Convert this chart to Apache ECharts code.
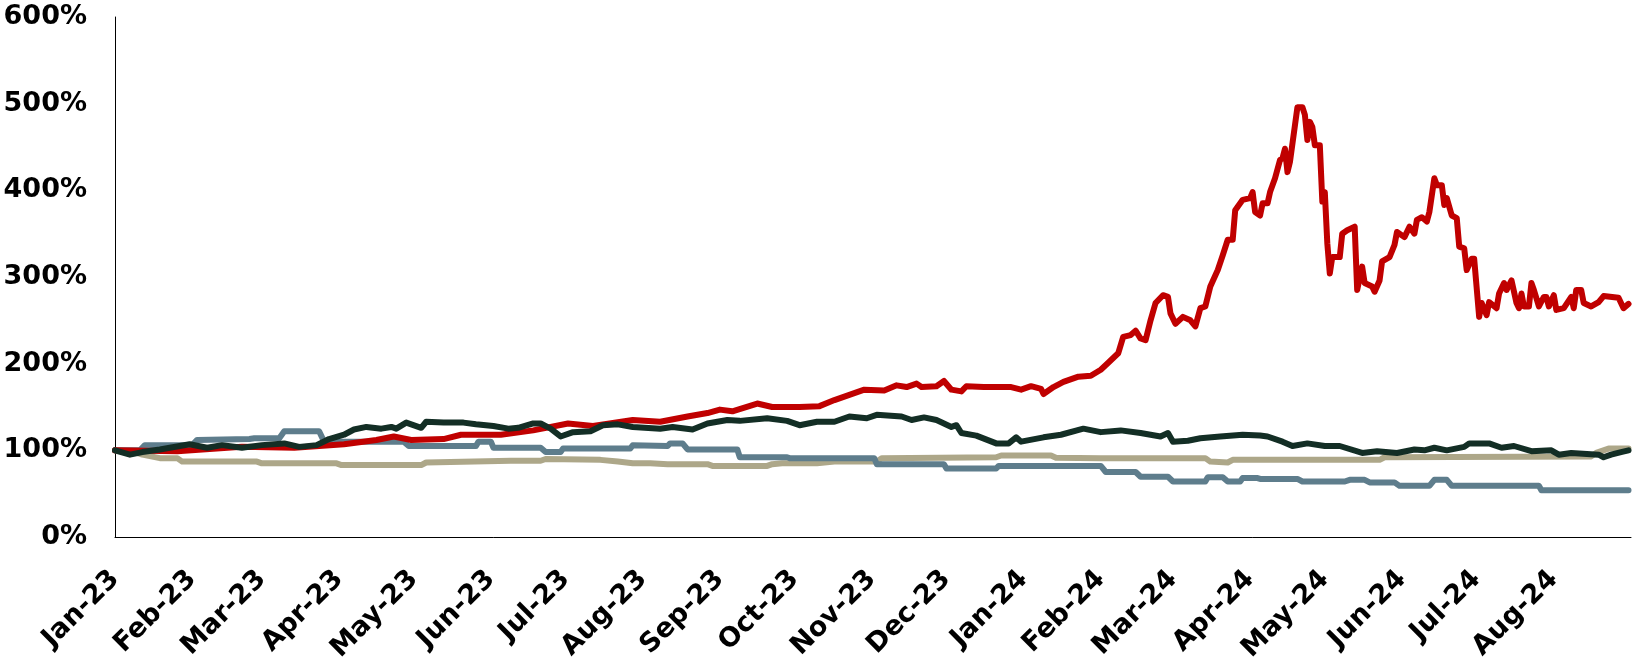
<!DOCTYPE html>
<html>
<head>
<meta charset="utf-8">
<script src="https://cdn.jsdelivr.net/npm/echarts@6/dist/echarts.min.js"></script>
<style>
html,body{margin:0;padding:0;background:#fff;}
#chart{width:1634px;height:658px;}
</style>
</head>
<body>
<div id="chart"></div>
<script>
// x values are days since 1 Jan 2023
const tickLabels = ['Jan-23','Feb-23','Mar-23','Apr-23','May-23','Jun-23','Jul-23','Aug-23','Sep-23','Oct-23','Nov-23','Dec-23',
  'Jan-24','Feb-24','Mar-24','Apr-24','May-24','Jun-24','Jul-24','Aug-24'];
const yTicks = [0, 100, 200, 300, 400, 500, 600];

const redDays = [0,25,51,72,92,105,112,119,132,139,155,168,182,192,208,219,230,238,243,248,258,264,275,283,289,297,301,309,314,318,322,324,330,333,336,340,342,349,360,364,368,372,373,377,381,387,392,396,399,403,405,408,410,412,414,416,418,421,423,424,426,429,432,434,436,438,440,443,445,447,449,450,453,456,457,458,460,461,463,464,466,468,469,470,471,472,474,475,477,478,479,480,481,482,484,485,486,487,488,489,492,493,495,498,499,501,502,505,506,508,509,512,514,515,518,520,522,523,525,527,528,530,531,533,534,535,537,539,540,542,543,545,546,548,549,551,552,555,556,558,559,561,563,564,565,566,568,569,570,572,574,575,576,578,579,582,585,586,587,589,590,593,596,598,604,606,608];
const redVals = [100,99,104,103,107,112,116,112,113,118,118,123,131,128,135,133,139,143,147,145,154,150,150,151,158,166,170,169,175,173,177,173,174,180,170,168,174,173,173,170,174,171,165,173,179,185,186,193,201,212,231,233,238,229,227,250,270,279,277,258,246,254,250,243,264,266,289,308,325,343,343,377,389,391,398,375,371,385,385,398,414,435,437,448,421,433,475,496,496,487,458,479,473,452,452,387,398,339,304,323,323,350,354,358,285,312,293,289,283,296,318,323,337,352,346,358,350,366,369,364,375,414,406,406,383,391,371,368,335,333,308,321,321,254,270,256,271,264,281,293,285,296,270,264,281,266,266,293,285,266,277,277,266,279,262,264,277,264,285,285,270,266,271,278,276,264,269];

const greenDays = [0,6,11,18,30,37,43,51,59,68,74,81,86,92,96,101,107,111,113,117,123,125,132,140,145,152,158,162,168,171,175,179,184,191,196,202,208,219,224,232,238,246,251,262,270,275,282,289,295,302,306,316,320,325,330,336,338,340,346,354,359,362,364,373,380,389,396,404,412,420,423,425,431,436,444,453,460,463,469,473,479,486,492,501,507,515,522,526,530,535,542,544,552,557,562,569,577,580,585,596,598,601,605,608];
const greenVals = [100,95,98,101,107,103,106,103,106,108,104,106,113,118,124,127,125,127,125,132,126,133,132,132,130,128,125,126,131,131,125,116,121,122,129,130,127,125,127,124,131,135,134,137,134,129,133,133,139,137,141,139,135,138,135,127,129,120,117,108,108,115,110,115,118,125,121,123,120,116,120,110,111,114,116,118,117,116,110,105,108,105,105,97,99,97,101,100,103,100,104,108,108,103,105,99,100,95,97,95,92,95,98,100];

const tanDays = [0,8,11,18,25,27,57,59,89,91,123,125,159,171,173,195,202,208,215,222,238,240,262,264,268,282,289,306,308,354,356,376,378,396,438,440,447,449,508,510,593,595,600,608];
const tanVals = [100,98,95,91,91,87,87,85,85,83,83,86,88,88,90,89,87,85,85,84,84,82,82,84,85,85,87,87,91,92,94,94,91.5,91,91,87,86,89,89,92,93,97,102,102];

const slateDays = [0,10,12,31,33,54,56,66,68,82,84,116,118,145,146,151,152,171,173,179,180,207,208,222,223,228,230,250,251,270,271,305,306,333,334,354,355,396,398,410,412,423,425,438,439,445,447,452,453,459,460,475,477,494,496,502,504,514,516,528,530,535,537,572,573,608];
const slateVals = [100,100,106,106,112,113,114,114,122,122,110,110,105,105,110,110,103,103,98,98,102,102,106,105,108,108,101,101,92,92,91,91,84,84,79,79,82,82,75,75,69.5,69.5,64,64,69,69,64,64,68,68,67,67,64,64,66,66,63,63,59,59,66,66,59,59,54,54];

const DAY_MS = 86400000;
const base = Date.UTC(2023, 0, 1);
const monthStartDays = tickLabels.map((_, i) => Math.round((Date.UTC(2023, i, 1) - base) / DAY_MS));
const axisEndDay = Math.round((Date.UTC(2024, 8, 1) - base) / DAY_MS);
function pairs(days, vals) { return days.map((d, i) => [d, vals[i]]); }

const FONT = 'DejaVu Sans';

const chart = echarts.init(document.getElementById('chart'), null, {renderer: 'canvas'});
const lineSeries = (name, color, days, vals) => ({
  name, type: 'line', data: pairs(days, vals), showSymbol: false, symbol: 'none',
  lineStyle: {color, width: 6, join: 'round', cap: 'round'}, itemStyle: {color},
  emphasis: {disabled: true}, animation: false
});

chart.setOption({
  animation: false,
  backgroundColor: '#ffffff',
  grid: {left: 115, right: 3, top: 17, bottom: 121, containLabel: false, outerBoundsMode: 'none'},
  xAxis: {
    type: 'value',
    min: 0, max: axisEndDay,
    axisLine: {show: true, onZero: false, lineStyle: {color: '#000', width: 1}},
    axisTick: {show: false},
    splitLine: {show: false},
    axisLabel: {
      customValues: monthStartDays,
      rotate: 45, margin: 38,
      color: '#000', fontFamily: FONT, fontWeight: 'bold', fontSize: 27,
      formatter: (v) => { const idx = monthStartDays.indexOf(Math.round(v)); return idx >= 0 ? tickLabels[idx] : ''; }
    }
  },
  yAxis: {
    type: 'value', min: yTicks[0], max: yTicks[yTicks.length - 1], interval: 100,
    axisLine: {show: true, lineStyle: {color: '#000', width: 1}},
    axisTick: {show: false},
    splitLine: {show: false},
    axisLabel: {margin: 28, color: '#000', fontFamily: FONT, fontWeight: 'bold', fontSize: 27, formatter: '{value}%'}
  },
  series: [
    lineSeries('Tan', '#ADA789', tanDays, tanVals),
    lineSeries('Slate', '#5E7D8C', slateDays, slateVals),
    lineSeries('Red', '#C00000', redDays, redVals),
    lineSeries('Green', '#132E25', greenDays, greenVals)
  ]
});
</script>
</body>
</html>
